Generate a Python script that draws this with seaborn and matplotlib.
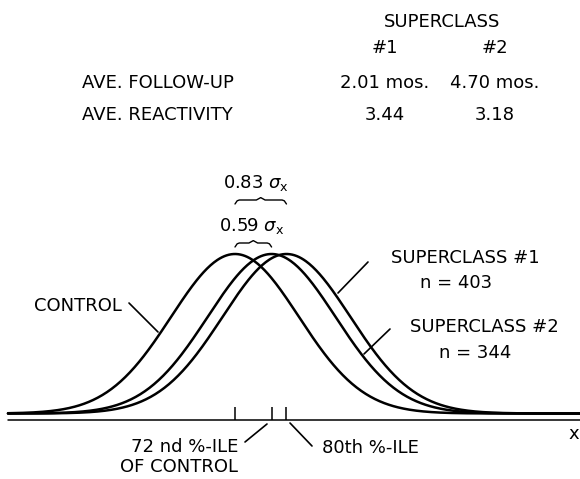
import numpy as np
import pandas as pd
import seaborn as sns
import matplotlib.pyplot as plt

# curves: shift of each group's mean, in sd units of the control group
groups = ["CONTROL", "SUPERCLASS #2", "SUPERCLASS #1"]
shifts = [0.0, 0.59, 0.83]
curve_sd = 1.03
sizes = {"SUPERCLASS #1": "n = 403", "SUPERCLASS #2": "n = 344"}

# little table at the top
row_names = ["AVE. FOLLOW-UP", "AVE. REACTIVITY"]
col_names = ["#1", "#2"]
follow_up = ["2.01 mos.", "4.70 mos."]
reactivity = ["3.44", "3.18"]

pctile_72 = "72 nd %-ILE\nOF CONTROL"
pctile_80 = "80th %-ILE"

sns.set_style("white")
plt.rcParams["font.family"] = ["DejaVu Sans"]
plt.rcParams["mathtext.fontset"] = "dejavusans"
plt.rcParams["text.color"] = "black"

fig = plt.figure(figsize=(5.8, 4.79), dpi=100)
ax = fig.add_axes([0, 0, 1, 1])

# pixel -> data helper for placing labels
X0, Y0, SX, SY = 235, 413.5, 62.0, 159.5
def px(x, y):
    return (x - X0) / SX, (Y0 - y) / SY

xs = np.linspace(px(8, 0)[0], px(582, 0)[0], 500)
frames = []
for g, m in zip(groups, shifts):
    frames.append(pd.DataFrame({"x": xs, "density": np.exp(-0.5 * ((xs - m) / curve_sd) ** 2), "group": g}))
df = pd.concat(frames)

sns.lineplot(data=df, x="x", y="density", units="group", estimator=None,
             color="black", lw=1.8, ax=ax)

ax.set_xlim(px(0, 0)[0], px(580, 0)[0])
ax.set_ylim(px(0, 479)[1], px(0, 0)[1])
ax.axis("off")

fs = 13

# x axis line and ticks at the means
base = px(0, 419.5)[1]
ax.axhline(base, xmin=8 / 580, color="black", lw=1.1)
ax.vlines(shifts, base, px(0, 407)[1], color="black", lw=1.1)
ax.text(*px(568, 434), "x", fontsize=fs, ha="left", va="center")

# braces showing the shifts
def brace(x1, x2, y, h=0.025, d=0.07):
    xm = (x1 + x2) / 2
    ax.plot([x1, x1 + d / 2, x1 + d, xm - d, xm, xm + d, x2 - d, x2 - d / 2, x2],
            [y - h, y - h * 0.2, y, y, y + h * 0.6, y, y, y - h * 0.2, y - h],
            color="black", lw=1.0)

brace(shifts[0], shifts[2], px(0, 200)[1])
ax.text(*px(256, 183), r"0.83 $\sigma_{\mathsf{x}}$", fontsize=fs, ha="center", va="center")
brace(shifts[0], shifts[1], px(0, 243)[1])
ax.text(*px(252, 226), r"0.59 $\sigma_{\mathsf{x}}$", fontsize=fs, ha="center", va="center")

# curve labels with leader lines
def leader(p1, p2):
    a, b = px(*p1), px(*p2)
    ax.plot([a[0], b[0]], [a[1], b[1]], color="black", lw=1.2)

ax.text(*px(122, 306), groups[0], fontsize=fs, ha="right", va="center")
leader((129, 303), (158, 332))

ax.text(*px(465, 258), groups[2], fontsize=fs, ha="center", va="center")
ax.text(*px(456, 283), sizes[groups[2]], fontsize=fs, ha="center", va="center")
leader((368, 262), (338, 293))

ax.text(*px(484, 327), groups[1], fontsize=fs, ha="center", va="center")
ax.text(*px(475, 353), sizes[groups[1]], fontsize=fs, ha="center", va="center")
leader((390, 329), (364, 354))

# percentile labels
ax.text(*px(238, 457), pctile_72, fontsize=fs, ha="right", va="center",
        multialignment="right", linespacing=1.1)
leader((245, 442), (267, 424))
ax.text(*px(322, 448), pctile_80, fontsize=fs, ha="left", va="center")
leader((290, 423), (312, 446))

# table
ax.text(*px(442, 22), "SUPERCLASS", fontsize=fs, ha="center", va="center")
col_x = [385, 495]
for cx, name in zip(col_x, col_names):
    ax.text(*px(cx, 48), name, fontsize=fs, ha="center", va="center")
for ry, name, vals in zip([83, 115], row_names, [follow_up, reactivity]):
    ax.text(*px(82, ry), name, fontsize=fs, ha="left", va="center")
    for cx, v in zip(col_x, vals):
        ax.text(*px(cx, ry), v, fontsize=fs, ha="center", va="center")

fig.savefig("out.png", dpi=100)
